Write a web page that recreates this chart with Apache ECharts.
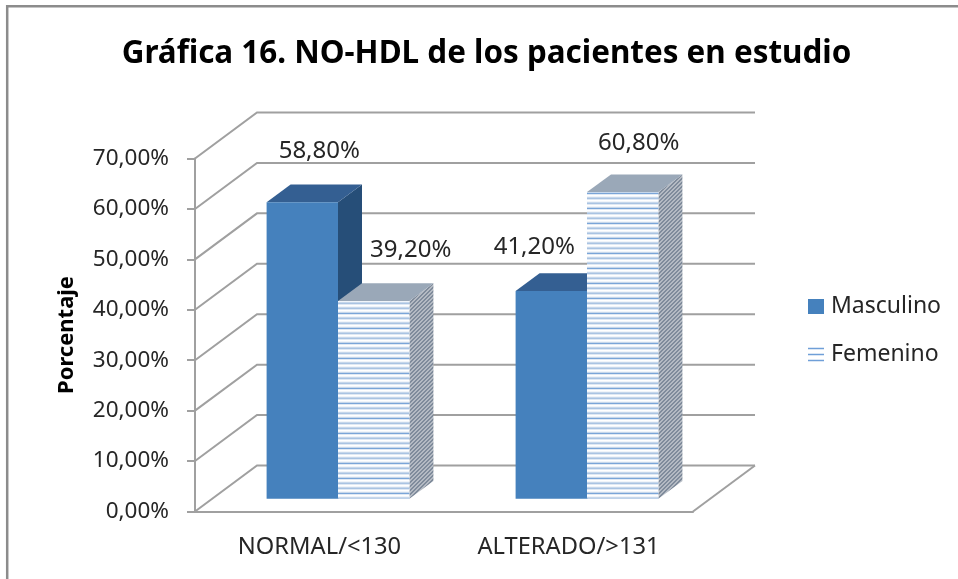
<!DOCTYPE html>
<html>
<head>
<meta charset="utf-8">
<title>NO-HDL</title>
<style>
  html, body { margin: 0; padding: 0; background: #fff; }
  #chart { width: 958px; height: 579px; }
</style>
<script src="https://cdn.jsdelivr.net/npm/echarts@6/dist/echarts.min.js"></script>
</head>
<body>
<div id="chart"></div>
<script>
const categories = ['NORMAL/<130', 'ALTERADO/>131']
const masculino = [58.8, 41.2]
const femenino = [39.2, 60.8]
const yTicks = [0, 10, 20, 30, 40, 50, 60, 70]

// los textos de datos estan movidos a mano en el original
const labelNudgeMasc = [[17, -51], [-17, -44]]
const labelNudgeFem = [[37, -51], [16, -49]]

const FONT = '"Noto Sans", sans-serif'
const WALL_DX = 62
const WALL_DY = -46
const FLOOR_DX = 18.5
const FLOOR_DY = -12.8
const BAR_W = 71.4
const SIDE_DX = 24
const SIDE_DY = -17.7
const LINE = '#a0a0a0'

function fmtPct(v) {
  return v.toFixed(2).replace('.', ',') + '%'
}

// rayas horizontales de la cara frontal
function stripePattern() {
  const c = document.createElement('canvas')
  c.width = 1
  c.height = 15
  const ctx = c.getContext('2d')
  const rows = ['#ffffff', '#f1f5fa', '#c6d7eb', '#a9c3e2', '#e0e9f4']
  for (let y = 0; y < 15; y++) {
    ctx.fillStyle = rows[y % 5]
    ctx.fillRect(0, y, 1, 1)
  }
  ctx.fillStyle = '#7aa5d8'
  ctx.fillRect(0, 13, 1, 1)
  return { image: c, repeat: 'repeat' }
}

// rayas diagonales de la cara lateral
function hatchPattern() {
  const c = document.createElement('canvas')
  c.width = 4
  c.height = 4
  const ctx = c.getContext('2d')
  ctx.fillStyle = '#b4bac3'
  ctx.fillRect(0, 0, 4, 4)
  ctx.fillStyle = '#7f8b9b'
  for (let i = 0; i < 4; i++) {
    ctx.fillRect(i, 3 - i, 1, 1)
    ctx.fillRect((i + 1) % 4, 3 - i, 1, 1)
  }
  return { image: c, repeat: 'repeat' }
}

function barRenderer(shift, colors, nudges) {
  return function(params, api) {
    const idx = api.value(0)
    const val = api.value(1)
    const top = api.coord([idx, val])
    const base = api.coord([idx, 0])
    const x0 = top[0] + FLOOR_DX + shift * BAR_W
    const x1 = x0 + BAR_W
    const yt = top[1] + FLOOR_DY
    const yb = base[1] + FLOOR_DY
    const nudge = nudges[idx]
    return {
      type: 'group',
      children: [
        {
          type: 'polygon',
          shape: { points: [[x1, yt], [x1 + SIDE_DX, yt + SIDE_DY], [x1 + SIDE_DX, yb + SIDE_DY], [x1, yb]] },
          style: { fill: colors.side }
        },
        {
          type: 'polygon',
          shape: { points: [[x0, yt], [x0 + SIDE_DX, yt + SIDE_DY], [x1 + SIDE_DX, yt + SIDE_DY], [x1, yt]] },
          style: { fill: colors.top }
        },
        {
          type: 'rect',
          shape: { x: x0, y: yt, width: BAR_W, height: yb - yt },
          style: { fill: colors.front }
        },
        {
          type: 'text',
          x: x0 + BAR_W / 2 + nudge[0],
          y: yt + nudge[1],
          style: {
            text: fmtPct(val),
            font: '24px ' + FONT,
            fill: '#262626',
            align: 'center',
            verticalAlign: 'middle'
          }
        }
      ]
    }
  }
}

// paredes del grafico: lineas de fondo y diagonales laterales
function wallRenderer(params, api) {
  const y = api.coord([0, api.value(1)])[1]
  const left = params.coordSys.x
  const right = left + params.coordSys.width
  const style = { stroke: LINE, lineWidth: 2, fill: null }
  const children = [
    {
      type: 'polyline',
      shape: { points: [[left, y], [left + WALL_DX, y + WALL_DY], [right + WALL_DX, y + WALL_DY]] },
      style: style
    }
  ]
  if (api.value(1) === 0) {
    children.push({
      type: 'line',
      shape: { x1: right, y1: y, x2: right + WALL_DX, y2: y + WALL_DY },
      style: style
    })
  }
  return { type: 'group', children: children }
}

const chart = echarts.init(document.getElementById('chart'))
chart.setOption({
  animation: false,
  backgroundColor: '#fff',
  title: {
    text: 'Gráfica 16. NO-HDL de los pacientes en estudio',
    left: 481.5,
    top: 34,
    textAlign: 'center',
    textStyle: { fontFamily: FONT, fontWeight: 'bold', fontSize: 31.4, color: '#000' }
  },
  graphic: [
    {
      type: 'polyline',
      silent: true,
      shape: { points: [[7.2, 579], [7.2, 6.2], [958, 6.2]] },
      style: { stroke: '#8c8c8c', lineWidth: 2.5, fill: null }
    }
  ],
  legend: {
    left: 808,
    top: 295,
    padding: 0,
    orient: 'vertical',
    itemWidth: 16,
    itemHeight: 15,
    itemGap: 25,
    selectedMode: false,
    textStyle: { fontFamily: FONT, fontSize: 23, color: '#262626', padding: [0, 0, 0, 2] },
    data: [
      { name: 'Masculino', icon: 'rect' },
      {
        name: 'Femenino',
        icon: 'path://M0 0H16V1.6H0ZM0 6H16V7.6H0ZM0 12H16V13.6H0Z',
        itemStyle: { color: '#6f9fd8' }
      }
    ]
  },
  grid: { left: 195, right: 265, top: 158.5, bottom: 67.5 },
  xAxis: {
    type: 'category',
    data: categories,
    axisLine: { lineStyle: { color: LINE, width: 2 } },
    axisTick: { length: 8, lineStyle: { color: LINE, width: 2 } },
    axisLabel: { fontFamily: FONT, fontSize: 23.7, color: '#262626', margin: 24 }
  },
  yAxis: {
    type: 'value',
    min: 0,
    max: 70,
    interval: 10,
    name: 'Porcentaje',
    nameLocation: 'middle',
    nameGap: 117,
    nameTextStyle: { fontFamily: FONT, fontWeight: 'bold', fontSize: 22, color: '#000' },
    axisLine: { show: true, lineStyle: { color: LINE, width: 2 } },
    axisTick: { show: true, length: 8, lineStyle: { color: LINE, width: 2 } },
    axisLabel: { fontFamily: FONT, fontSize: 22.5, color: '#262626', margin: 26, formatter: fmtPct },
    splitLine: { show: false }
  },
  series: [
    {
      type: 'custom',
      name: 'pared',
      silent: true,
      renderItem: wallRenderer,
      data: yTicks.map(t => [0, t]),
      z: 1
    },
    {
      type: 'custom',
      name: 'Masculino',
      itemStyle: { color: '#4581bd' },
      renderItem: barRenderer(-1, { front: '#4581bd', side: '#264e78', top: '#345f92' }, labelNudgeMasc),
      data: masculino.map((v, i) => [i, v]),
      z: 2
    },
    {
      type: 'custom',
      name: 'Femenino',
      itemStyle: { color: '#6f9fd8' },
      renderItem: barRenderer(0, { front: stripePattern(), side: hatchPattern(), top: '#9aa8b8' }, labelNudgeFem),
      data: femenino.map((v, i) => [i, v]),
      z: 3
    }
  ]
})
</script>
</body>
</html>
